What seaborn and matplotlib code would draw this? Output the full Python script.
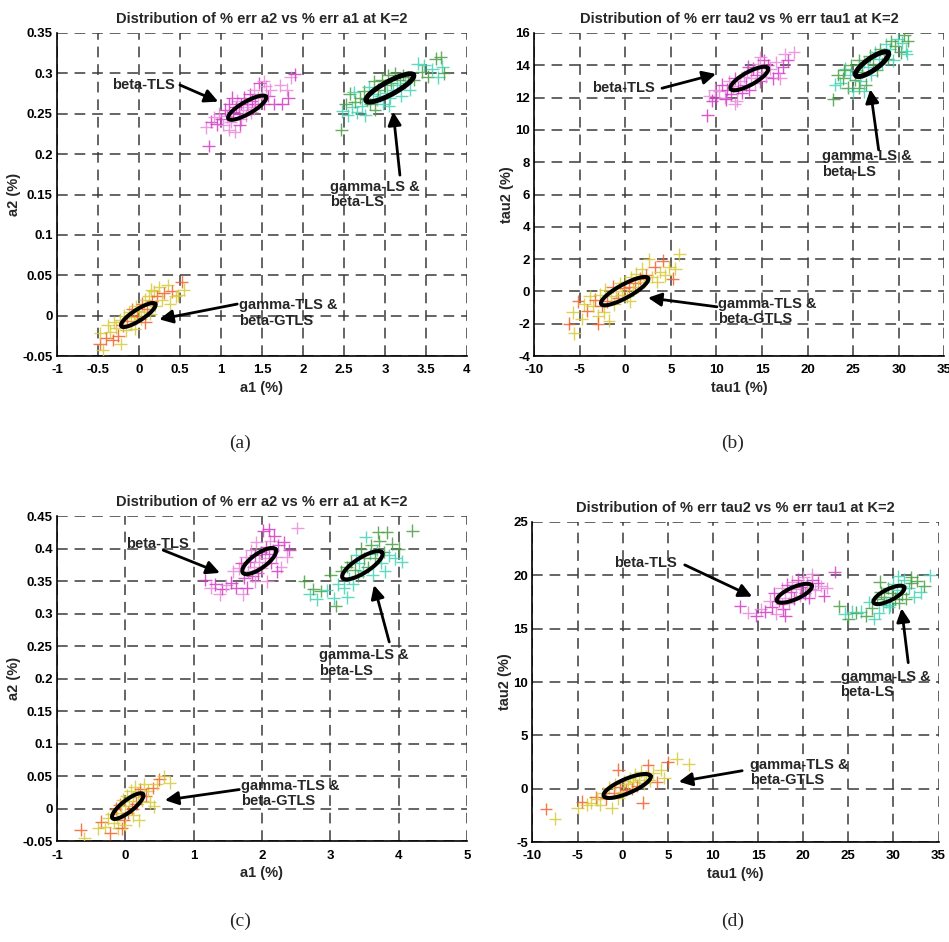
import numpy as np
import pandas as pd
import matplotlib
matplotlib.use("Agg")
import matplotlib.pyplot as plt
import seaborn as sns

# ---------------------------------------------------------------- data
# (a) % error of a2 vs a1
a_tls_x = [0.85, 0.82, 0.88, 0.92, 0.95, 0.98, 1.00, 1.03, 1.05, 1.08, 1.10, 1.12, 1.15, 1.17, 1.18, 1.20,
           1.22, 1.24, 1.25, 1.27, 1.28, 1.30, 1.32, 1.33, 1.35, 1.37, 1.38, 1.40, 1.42, 1.45, 1.47, 1.50,
           1.52, 1.55, 1.58, 1.60, 1.65, 1.72, 1.75, 1.80, 1.82, 1.85, 1.90, 1.10, 1.23, 1.40, 1.14, 1.52]
a_tls_y = [0.210, 0.233, 0.240, 0.246, 0.237, 0.250, 0.243, 0.236, 0.255, 0.247, 0.262, 0.240, 0.252, 0.228,
           0.258, 0.266, 0.250, 0.243, 0.262, 0.255, 0.270, 0.248, 0.262, 0.258, 0.274, 0.252, 0.266, 0.280,
           0.262, 0.270, 0.288, 0.275, 0.262, 0.284, 0.272, 0.280, 0.262, 0.285, 0.262, 0.280, 0.270, 0.295,
           0.299, 0.230, 0.236, 0.256, 0.270, 0.290]
a_ls_x = [2.47, 2.48, 2.52, 2.55, 2.57, 2.60, 2.63, 2.66, 2.70, 2.72, 2.74, 2.76, 2.78, 2.80, 2.82, 2.85,
          2.87, 2.90, 2.92, 2.94, 2.96, 2.98, 3.00, 3.02, 3.04, 3.06, 3.08, 3.10, 3.12, 3.15, 3.18, 3.20,
          3.22, 3.25, 3.28, 3.30, 3.35, 3.40, 3.45, 3.48, 3.52, 3.58, 3.62, 3.65, 3.68, 3.70, 3.72, 2.62,
          2.88, 3.05]
a_ls_y = [0.230, 0.253, 0.262, 0.248, 0.275, 0.258, 0.265, 0.252, 0.270, 0.260, 0.278, 0.248, 0.268, 0.283,
          0.262, 0.275, 0.290, 0.268, 0.280, 0.272, 0.292, 0.262, 0.285, 0.276, 0.298, 0.270, 0.288, 0.280,
          0.300, 0.285, 0.292, 0.272, 0.298, 0.288, 0.295, 0.280, 0.292, 0.312, 0.302, 0.310, 0.296, 0.305,
          0.318, 0.295, 0.320, 0.308, 0.300, 0.277, 0.255, 0.260]
a_gtls_x = [-0.48, -0.44, -0.47, -0.40, -0.38, -0.35, -0.32, -0.30, -0.28, -0.25, -0.23, -0.22, -0.20, -0.18,
            -0.16, -0.14, -0.12, -0.10, -0.08, -0.06, -0.04, -0.02, 0.00, 0.02, 0.04, 0.06, 0.08, 0.10, 0.12,
            0.14, 0.16, 0.18, 0.20, 0.22, 0.25, 0.28, 0.30, 0.35, 0.38, 0.40, 0.45, 0.48, 0.52, 0.55, -0.05,
            0.08, 0.15]
a_gtls_y = [-0.035, -0.043, -0.022, -0.028, -0.012, -0.020, -0.030, -0.008, -0.015, -0.025, -0.005, -0.035,
            -0.012, 0.000, -0.018, -0.006, 0.004, -0.010, 0.008, -0.002, 0.012, 0.000, 0.006, -0.004, 0.015,
            0.004, 0.020, 0.008, 0.024, 0.002, 0.018, 0.030, 0.012, 0.024, 0.035, 0.020, 0.028, 0.038, 0.015,
            0.030, 0.024, 0.025, 0.042, 0.032, -0.016, -0.008, 0.032]

# (b) % error of tau2 vs tau1
b_tls_x = [9.0, 9.2, 9.5, 9.8, 10.0, 10.3, 10.6, 10.9, 11.2, 11.4, 11.6, 11.8, 12.0, 12.2, 12.4, 12.6, 12.8,
           13.0, 13.2, 13.4, 13.6, 13.8, 14.0, 14.2, 14.4, 14.6, 14.8, 15.0, 15.2, 15.4, 15.6, 15.9, 16.2,
           16.5, 16.8, 17.0, 17.3, 17.5, 17.8, 18.5, 11.0, 12.0, 13.5, 14.8]
b_tls_y = [10.9, 12.1, 11.8, 12.5, 12.0, 12.4, 12.8, 12.0, 12.5, 13.0, 12.2, 12.7, 13.2, 11.8, 12.6, 13.0,
           12.3, 13.3, 12.8, 13.6, 12.5, 13.2, 13.8, 12.9, 13.4, 14.1, 13.0, 13.6, 14.3, 13.3, 14.0, 13.8,
           13.2, 14.2, 13.5, 13.2, 13.9, 14.7, 14.3, 14.8, 11.9, 11.6, 13.9, 14.5]
b_ls_x = [22.8, 23.0, 23.3, 23.6, 23.9, 24.1, 24.4, 24.6, 24.8, 25.0, 25.2, 25.4, 25.6, 25.8, 26.0, 26.2,
          26.4, 26.6, 26.8, 27.0, 27.2, 27.4, 27.6, 27.8, 28.0, 28.2, 28.4, 28.6, 28.8, 29.0, 29.2, 29.4,
          29.6, 29.9, 30.2, 30.4, 30.6, 30.8, 31.0, 30.9, 25.6, 26.2, 24.0]
b_ls_y = [11.9, 12.8, 13.4, 12.9, 13.2, 13.8, 12.6, 13.4, 14.0, 12.4, 13.1, 13.7, 14.3, 13.0, 13.6, 14.2,
          12.8, 13.9, 14.6, 13.4, 14.1, 14.8, 13.7, 14.4, 15.0, 14.1, 14.7, 15.3, 14.4, 15.0, 15.5, 14.3,
          15.2, 15.6, 14.8, 15.4, 15.9, 14.9, 15.5, 14.7, 12.6, 12.4, 13.7]
b_gtls_x = [-6.2, -5.6, -5.8, -5.2, -4.8, -4.5, -4.2, -3.9, -3.6, -3.3, -3.0, -2.8, -2.6, -2.4, -2.2, -2.0,
            -1.8, -1.6, -1.4, -1.2, -1.0, -0.8, -0.6, -0.4, -0.2, 0.0, 0.2, 0.4, 0.6, 0.8, 1.0, 1.2, 1.4,
            1.6, 1.8, 2.0, 2.3, 2.6, 2.9, 3.2, 3.5, 3.8, 4.1, 4.4, 4.8, 5.2, 5.5, 5.9, -3.0, 0.5]
b_gtls_y = [-2.0, -2.6, -1.3, -0.6, -1.7, -0.8, -1.2, -0.3, -0.9, -0.5, -1.5, -0.2, -0.9, -1.3, 0.1, -0.6,
            -1.8, -0.3, 0.3, -0.8, 0.0, -0.4, 0.5, -0.2, 0.2, 0.6, -0.3, 0.3, 0.9, 0.1, 0.5, 1.1, 0.3, 0.8,
            1.4, 0.6, 1.0, 2.0, 0.9, 1.5, 0.6, 1.2, 1.9, 1.0, 1.5, 0.8, 1.4, 2.3, -2.0, -0.6]

# (c) % error of a2 vs a1
c_tls_x = [1.17, 1.25, 1.32, 1.38, 1.42, 1.48, 1.55, 1.58, 1.62, 1.66, 1.70, 1.72, 1.74, 1.76, 1.78, 1.80,
           1.82, 1.84, 1.86, 1.88, 1.90, 1.92, 1.94, 1.96, 1.98, 2.00, 2.02, 2.04, 2.06, 2.08, 2.10, 2.12,
           2.14, 2.16, 2.18, 2.20, 2.24, 2.28, 2.32, 2.36, 2.40, 2.52, 2.10, 1.90, 2.22]
c_tls_y = [0.352, 0.340, 0.345, 0.330, 0.338, 0.344, 0.348, 0.365, 0.340, 0.370, 0.378, 0.330, 0.355, 0.388,
           0.340, 0.365, 0.380, 0.398, 0.358, 0.372, 0.390, 0.410, 0.362, 0.380, 0.395, 0.370, 0.428, 0.385,
           0.402, 0.350, 0.392, 0.412, 0.378, 0.398, 0.420, 0.388, 0.405, 0.372, 0.410, 0.388, 0.398, 0.432,
           0.430, 0.350, 0.365]
c_ls_x = [2.62, 2.70, 2.75, 2.80, 2.86, 2.95, 3.00, 3.05, 3.08, 3.12, 3.16, 3.20, 3.24, 3.28, 3.30, 3.33,
          3.36, 3.38, 3.40, 3.42, 3.45, 3.48, 3.50, 3.52, 3.55, 3.58, 3.60, 3.62, 3.65, 3.68, 3.72, 3.75,
          3.78, 3.80, 3.83, 3.86, 3.90, 3.95, 4.00, 4.05, 4.20, 3.25, 3.70]
c_ls_y = [0.350, 0.330, 0.338, 0.322, 0.335, 0.336, 0.360, 0.324, 0.312, 0.345, 0.365, 0.340, 0.372, 0.355,
          0.380, 0.345, 0.368, 0.390, 0.358, 0.378, 0.400, 0.365, 0.385, 0.418, 0.372, 0.392, 0.405, 0.360,
          0.385, 0.398, 0.412, 0.378, 0.395, 0.365, 0.425, 0.390, 0.408, 0.385, 0.400, 0.380, 0.428, 0.325,
          0.425]
c_gtls_x = [-0.65, -0.60, -0.40, -0.35, -0.30, -0.25, -0.22, -0.20, -0.17, -0.14, -0.12, -0.10, -0.08, -0.06,
            -0.04, -0.02, 0.00, 0.02, 0.04, 0.06, 0.08, 0.10, 0.12, 0.14, 0.16, 0.18, 0.20, 0.22, 0.25, 0.28,
            0.30, 0.33, 0.36, 0.40, 0.42, 0.46, 0.50, 0.56, 0.65, -0.05, 0.12, 0.00]
c_gtls_y = [-0.032, -0.045, -0.030, -0.020, -0.028, -0.015, -0.038, -0.008, -0.022, 0.000, -0.014, -0.030,
            0.006, -0.006, 0.014, -0.018, 0.004, 0.020, -0.006, 0.012, 0.028, 0.000, 0.018, 0.034, 0.008,
            0.024, -0.018, 0.030, 0.012, 0.038, 0.020, 0.028, 0.010, 0.032, 0.004, 0.038, 0.045, 0.050, 0.040,
            -0.030, -0.010, -0.025]

# (d) % error of tau2 vs tau1
d_tls_x = [13.0, 13.9, 14.8, 15.3, 15.8, 16.3, 16.8, 17.0, 17.3, 17.6, 17.8, 18.0, 18.2, 18.4, 18.6, 18.8,
           19.0, 19.2, 19.4, 19.6, 19.8, 20.0, 20.2, 20.4, 20.6, 20.8, 21.0, 21.3, 21.6, 22.0, 22.3, 22.6,
           23.5, 21.0, 18.0, 17.6, 16.5]
d_tls_y = [17.1, 16.5, 16.2, 16.8, 16.6, 17.6, 18.3, 16.4, 17.6, 18.8, 16.8, 17.9, 19.1, 17.4, 18.4, 19.4,
           17.8, 18.7, 19.6, 18.1, 18.9, 19.8, 18.3, 19.2, 17.9, 18.7, 19.6, 18.6, 19.3, 19.0, 18.1, 18.8,
           20.3, 20.1, 16.2, 17.3, 17.0]
d_ls_x = [24.0, 24.6, 25.0, 25.4, 25.9, 26.4, 27.0, 27.3, 27.6, 27.9, 28.2, 28.4, 28.6, 28.8, 29.0, 29.2,
          29.4, 29.6, 29.8, 30.0, 30.2, 30.4, 30.6, 30.8, 31.0, 31.2, 31.4, 31.7, 32.0, 32.3, 32.6, 33.0,
          33.4, 34.0, 32.0, 30.5, 28.5, 29.5]
d_ls_y = [17.1, 16.4, 15.9, 16.6, 16.5, 16.6, 16.2, 17.5, 16.9, 15.9, 17.8, 16.5, 18.4, 17.2, 18.0, 17.5,
          18.8, 17.2, 18.3, 19.2, 17.8, 18.6, 17.4, 19.0, 18.2, 19.6, 17.8, 18.8, 19.3, 18.0, 19.5, 18.4,
          19.0, 20.0, 19.8, 19.9, 19.4, 17.0]
d_gtls_x = [-8.5, -7.5, -5.0, -4.5, -4.0, -3.5, -3.0, -2.5, -2.2, -1.8, -1.5, -1.2, -1.0, -0.8, -0.5, -0.3,
            0.0, 0.2, 0.4, 0.6, 0.8, 1.0, 1.2, 1.4, 1.6, 1.8, 2.0, 2.2, 2.4, 2.6, 2.8, 3.0, 3.4, 3.8, 4.2,
            4.6, 5.0, 6.0, 7.3, -0.5, -2.8]
d_gtls_y = [-1.9, -2.8, -1.8, -1.2, -1.5, -1.3, -0.8, -1.5, -0.4, -0.9, 0.1, -1.8, -0.4, 0.4, -0.9, 0.2,
            -0.3, 0.7, -0.1, 0.4, 1.0, 0.0, 0.6, 1.3, 0.3, 0.8, 1.6, -1.3, 0.5, 1.2, 2.2, 0.8, 1.5, 0.6, 1.8,
            1.0, 2.5, 2.8, 2.3, 1.8, -1.0]

# confidence ellipses: centre, end of the long axis, minor/major ratio
ellipses = {
    "a": [((1.32, 0.2575), (1.55, 0.271), 0.28), ((3.06, 0.282), (3.35, 0.298), 0.24),
          ((-0.008, 0.0008), (0.20, 0.0145), 0.27)],
    "b": [((13.6, 13.18), (15.65, 13.82), 0.30), ((27.07, 14.07), (28.85, 14.78), 0.30),
          ((-0.08, 0.02), (2.5, 0.82), 0.25)],
    "c": [((1.96, 0.381), (2.20, 0.399), 0.36), ((3.47, 0.3745), (3.76, 0.394), 0.32),
          ((0.036, 0.004), (0.26, 0.0225), 0.30)],
    "d": [((19.02, 18.31), (20.95, 19.03), 0.32), ((29.5, 18.16), (31.2, 18.88), 0.33),
          ((0.5, 0.26), (3.1, 1.2), 0.28)],
}

# annotation: text, text anchor (left, middle), arrow tail, arrow head
notes = {
    "a": [("beta-TLS", (-0.33, 0.2856), (0.50, 0.2856), (0.967, 0.265)),
          ("gamma-LS &\nbeta-LS", (2.33, 0.150), (3.183, 0.174), (3.10, 0.2526)),
          ("gamma-TLS &\nbeta-GTLS", (1.22, 0.0033), (1.199, 0.0144), (0.248, -0.0045))],
    "b": [("beta-TLS", (-3.63, 12.6), (4.02, 12.58), (9.94, 13.46)),
          ("gamma-LS &\nbeta-LS", (21.58, 7.89), (27.8, 8.76), (26.88, 12.51)),
          ("gamma-TLS &\nbeta-GTLS", (10.16, -1.23), (10.05, -0.95), (2.48, -0.39))],
    "c": [("beta-TLS", (0.01, 0.408), (0.556, 0.3977), (1.385, 0.3628)),
          ("gamma-LS &\nbeta-LS", (2.84, 0.2242), (3.863, 0.2566), (3.64, 0.344)),
          ("gamma-TLS &\nbeta-GTLS", (1.688, 0.0234), (1.668, 0.0295), (0.58, 0.0131))],
    "d": [("beta-TLS", (-0.99, 21.19), (6.88, 20.97), (14.35, 18.0)),
          ("gamma-LS &\nbeta-LS", (24.14, 9.78), (31.64, 11.81), (30.9, 16.9)),
          ("gamma-TLS &\nbeta-GTLS", (14.16, 1.52), (13.24, 1.69), (6.22, 0.66))],
}

panels = {
    "a": dict(clouds=[(a_tls_x, a_tls_y), (a_ls_x, a_ls_y), (a_gtls_x, a_gtls_y)],
              xlim=(-1, 4), ylim=(-0.05, 0.35), xticks=np.arange(-1, 4.01, 0.5),
              yticks=np.arange(-0.05, 0.351, 0.05), xlabel="a1 (%)", ylabel="a2 (%)",
              title="Distribution of % err a2 vs % err a1 at K=2", tag="(a)"),
    "b": dict(clouds=[(b_tls_x, b_tls_y), (b_ls_x, b_ls_y), (b_gtls_x, b_gtls_y)],
              xlim=(-10, 35), ylim=(-4, 16), xticks=np.arange(-10, 36, 5),
              yticks=np.arange(-4, 17, 2), xlabel="tau1 (%)", ylabel="tau2 (%)",
              title="Distribution of % err tau2 vs % err tau1 at K=2", tag="(b)"),
    "c": dict(clouds=[(c_tls_x, c_tls_y), (c_ls_x, c_ls_y), (c_gtls_x, c_gtls_y)],
              xlim=(-1, 5), ylim=(-0.05, 0.45), xticks=np.arange(-1, 5.01, 1),
              yticks=np.arange(-0.05, 0.451, 0.05), xlabel="a1 (%)", ylabel="a2 (%)",
              title="Distribution of % err a2 vs % err a1 at K=2", tag="(c)"),
    "d": dict(clouds=[(d_tls_x, d_tls_y), (d_ls_x, d_ls_y), (d_gtls_x, d_gtls_y)],
              xlim=(-10, 35), ylim=(-5, 25), xticks=np.arange(-10, 36, 5),
              yticks=np.arange(-5, 26, 5), xlabel="tau1 (%)", ylabel="tau2 (%)",
              title="Distribution of % err tau2 vs % err tau1 at K=2", tag="(d)"),
}

# ---------------------------------------------------------------- style
sns.set_theme(style="white")
plt.rcParams["font.family"] = ["Liberation Sans", "DejaVu Sans"]

palette = {"tls_a": "#d23cc4", "tls_b": "#ea8adc",
           "ls_a": "#4a9e44", "ls_b": "#44d4b4",
           "gt_a": "#d8cb3a", "gt_b": "#f2622c"}

positions = {"a": [0.060, 0.622, 0.432, 0.343], "b": [0.563, 0.622, 0.432, 0.343],
             "c": [0.060, 0.107, 0.432, 0.345], "d": [0.561, 0.106, 0.428, 0.340]}
tag_xy = {"a": (0.253, 0.520), "b": (0.772, 0.520), "c": (0.253, 0.013), "d": (0.772, 0.013)}


def tone_frame(clouds):
    rows = []
    for k, (xs, ys) in enumerate(clouds):
        for i, (x, y) in enumerate(zip(xs, ys)):
            if k == 0:
                tone = "tls_a" if i % 2 == 0 else "tls_b"
            elif k == 1:
                tone = "ls_a" if i % 2 == 0 else "ls_b"
            else:
                tone = "gt_b" if i % 3 == 0 else "gt_a"
            rows.append((x, y, tone))
    return pd.DataFrame(rows, columns=["x", "y", "tone"])


def draw_ellipse(ax, centre, tip, ratio, lw):
    tr = ax.transData
    c = tr.transform(centre)
    u = tr.transform(tip) - c
    v = np.array([-u[1], u[0]]) * ratio
    t = np.linspace(0, 2 * np.pi, 240)
    pts = c + np.outer(np.cos(t), u) + np.outer(np.sin(t), v)
    d = tr.inverted().transform(pts)
    ax.plot(d[:, 0], d[:, 1], color="black", lw=lw, solid_capstyle="round", zorder=5)


fig = plt.figure(figsize=(9.49, 9.42), dpi=100)

for key, p in panels.items():
    ax = fig.add_axes(positions[key])
    df = tone_frame(p["clouds"])
    sns.scatterplot(data=df, x="x", y="y", hue="tone", palette=palette, marker="+",
                    s=85, linewidth=1.0, alpha=0.85, legend=False, ax=ax, zorder=3)
    ax.set_xlim(*p["xlim"])
    ax.set_ylim(*p["ylim"])
    ax.set_xticks(p["xticks"])
    ax.set_yticks(p["yticks"])
    ax.set_xticklabels([f"{v:g}" for v in p["xticks"]])
    ax.set_yticklabels([f"{v:g}" for v in np.round(p["yticks"], 3)])
    ax.grid(True, color="#3a3a3a", linestyle=(0, (7, 4.5)), linewidth=1.1)
    ax.set_axisbelow(True)
    for side in ("top", "right"):
        ax.spines[side].set_visible(False)
    for side in ("left", "bottom"):
        ax.spines[side].set_color("black")
        ax.spines[side].set_linewidth(1.2)
    ax.tick_params(direction="in", length=4, width=1, colors="black", labelsize=9.5)
    ax.tick_params(axis="x", pad=6)
    ax.tick_params(axis="y", pad=3)
    for lab in ax.get_xticklabels() + ax.get_yticklabels():
        lab.set_fontweight("bold")
    ax.set_xlabel(p["xlabel"], fontsize=10.5, fontweight="bold", labelpad=3)
    ax.set_ylabel(p["ylabel"], fontsize=10.5, fontweight="bold", labelpad=1)
    ax.set_title(p["title"], fontsize=10.5, fontweight="bold", pad=7)

    for i, (centre, tip, ratio) in enumerate(ellipses[key]):
        draw_ellipse(ax, centre, tip, ratio, lw=3.6 if i == 1 and key in "ab" else 2.9)

    for text, anchor, tail, head in notes[key]:
        ax.text(anchor[0], anchor[1], text, ha="left", va="center", fontsize=10.5,
                fontweight="bold", linespacing=1.15, zorder=6)
        ax.annotate("", xy=head, xytext=tail,
                    arrowprops=dict(arrowstyle="-|>", color="black", lw=2.0,
                                    mutation_scale=20, shrinkA=0, shrinkB=0), zorder=6)

    fig.text(tag_xy[key][0], tag_xy[key][1], p["tag"], ha="center", va="bottom",
             fontsize=14, family="Liberation Serif")

fig.savefig("out.png", dpi=100, facecolor="white")
